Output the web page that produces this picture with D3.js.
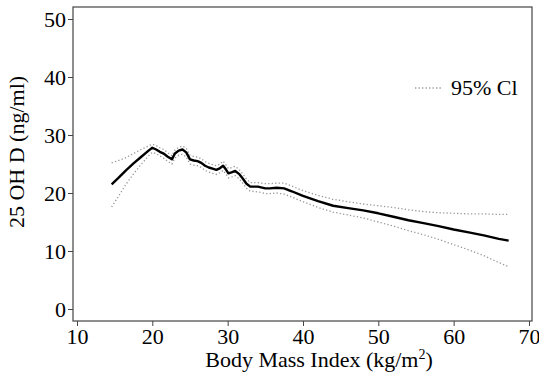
<!DOCTYPE html>
<html>
<head>
<meta charset="utf-8">
<script src="https://cdn.jsdelivr.net/npm/d3@7"></script>
<style>
  body { margin: 0; background: #fff; }
  svg text { font-family: "Liberation Serif", "Times New Roman", Times, serif; }
</style>
</head>
<body>
<div id="chart"></div>
<script>
const width = 539, height = 376;

// data
const bmi = [14.6, 15.5, 16.5, 17.5, 18.5, 19.5, 20.0, 20.5, 21.0, 21.5, 22.0, 22.6, 23.0, 23.5, 24.0, 24.5,
  25.0, 25.5, 26.0, 26.5, 27.0, 27.5, 28.0, 28.5, 29.0, 29.4, 29.8, 30.1, 30.6, 31.0, 31.5, 32.0, 32.5,
  33.0, 34.0, 35.0, 35.6, 36.5, 37.5, 38.5, 40.0, 42.0, 44.0, 46.0, 48.0, 50.0, 52.0, 54.0, 56.0, 58.0,
  60.0, 62.0, 64.0, 66.0, 67.3];
const vitD = [21.5, 22.6, 23.9, 25.1, 26.2, 27.3, 27.8, 27.5, 27.1, 26.8, 26.3, 25.8, 26.8, 27.3, 27.5, 27.0,
  25.8, 25.6, 25.5, 25.2, 24.7, 24.4, 24.2, 24.0, 24.3, 24.7, 24.0, 23.4, 23.6, 23.8, 23.3, 22.5, 21.6,
  21.1, 21.1, 20.8, 20.8, 20.9, 20.8, 20.3, 19.5, 18.6, 17.8, 17.4, 17.0, 16.5, 15.9, 15.3, 14.8, 14.3,
  13.7, 13.2, 12.7, 12.1, 11.8];
const ciUpper = [25.2, 25.6, 26.1, 26.8, 27.5, 28.1, 28.4, 28.2, 27.8, 27.5, 27.0, 26.4, 27.4, 27.9, 28.1, 27.7,
  26.5, 26.3, 26.2, 25.9, 25.4, 25.1, 24.9, 24.7, 25.0, 25.5, 24.8, 24.2, 24.4, 24.6, 24.1, 23.3, 22.4,
  21.8, 21.8, 21.6, 21.6, 21.7, 21.7, 21.2, 20.4, 19.6, 18.9, 18.5, 18.1, 17.8, 17.5, 17.1, 16.8, 16.6,
  16.5, 16.4, 16.4, 16.3, 16.3];
const ciLower = [17.6, 19.4, 21.5, 23.3, 24.9, 26.4, 27.0, 26.8, 26.4, 26.0, 25.5, 25.0, 26.0, 26.5, 26.7, 26.2,
  25.0, 24.8, 24.7, 24.4, 23.9, 23.6, 23.4, 23.2, 23.5, 23.9, 23.2, 22.6, 22.8, 23.0, 22.5, 21.7, 20.8,
  20.3, 20.2, 19.9, 19.9, 20.0, 19.8, 19.3, 18.5, 17.5, 16.7, 16.2, 15.7, 15.0, 14.3, 13.5, 12.8, 12.0,
  11.1, 10.2, 9.2, 8.0, 7.3];
const xTicks = [10, 20, 30, 40, 50, 60, 70];
const yTicks = [0, 10, 20, 30, 40, 50];
const legendLabel = "95% Cl";

const serif = "'Liberation Serif', 'Times New Roman', Times, serif";
const margin = {left: 73, right: 7, top: 7, bottom: 55};

const svg = d3.select("#chart")
  .append("svg")
  .attr("width", width)
  .attr("height", height)
  .attr("font-family", serif);

const x = d3.scaleLinear()
  .domain([9.47, 70.4])
  .range([margin.left, width - margin.right]);
const y = d3.scaleLinear()
  .domain([-2.07, 52.07])
  .range([height - margin.bottom, margin.top]);

// frame
svg.append("rect")
  .attr("x", margin.left)
  .attr("y", margin.top)
  .attr("width", width - margin.left - margin.right)
  .attr("height", height - margin.top - margin.bottom)
  .attr("fill", "none")
  .attr("stroke", "#444")
  .attr("stroke-width", 1.2);

const xAxis = svg.append("g")
  .attr("transform", `translate(0,${height - margin.bottom})`)
  .call(d3.axisBottom(x).tickValues(xTicks).tickSize(5).tickPadding(2));
const yAxis = svg.append("g")
  .attr("transform", `translate(${margin.left},0)`)
  .call(d3.axisLeft(y).tickValues(yTicks).tickSize(5).tickPadding(2));

[xAxis, yAxis].forEach(a => {
  a.attr("font-family", serif).attr("font-size", 22);
  a.select(".domain").remove();
  a.selectAll(".tick line").attr("stroke", "#444");
  a.selectAll(".tick text").attr("fill", "#000");
});

const line = d3.line()
  .x((d, i) => x(bmi[i]))
  .y(d => y(d));

// confidence bands
[ciUpper, ciLower].forEach(s => {
  svg.append("path")
    .datum(s)
    .attr("fill", "none")
    .attr("stroke", "#999")
    .attr("stroke-width", 1.3)
    .attr("stroke-dasharray", "1.3,2.2")
    .attr("d", line);
});

svg.append("path")
  .datum(vitD)
  .attr("fill", "none")
  .attr("stroke", "#000")
  .attr("stroke-width", 2.4)
  .attr("stroke-linejoin", "round")
  .attr("d", line);

// legend
svg.append("line")
  .attr("x1", 415).attr("x2", 443)
  .attr("y1", 88).attr("y2", 88)
  .attr("stroke", "#999")
  .attr("stroke-width", 1.3)
  .attr("stroke-dasharray", "1.3,2.2");
svg.append("text")
  .attr("x", 451).attr("y", 95)
  .attr("font-size", 22)
  .attr("fill", "#000")
  .text(legendLabel);

// axis titles
const xt = svg.append("text")
  .attr("x", 319).attr("y", 367)
  .attr("text-anchor", "middle")
  .attr("font-size", 22)
  .attr("fill", "#000");
xt.append("tspan").text("Body Mass Index (kg/m");
xt.append("tspan").attr("dy", -8).attr("font-size", 14).text("2");
xt.append("tspan").attr("dy", 8).text(")");

svg.append("text")
  .attr("transform", "translate(24,152) rotate(-90)")
  .attr("text-anchor", "middle")
  .attr("font-size", 22)
  .attr("fill", "#000")
  .text("25 OH D (ng/ml)");
</script>
</body>
</html>
